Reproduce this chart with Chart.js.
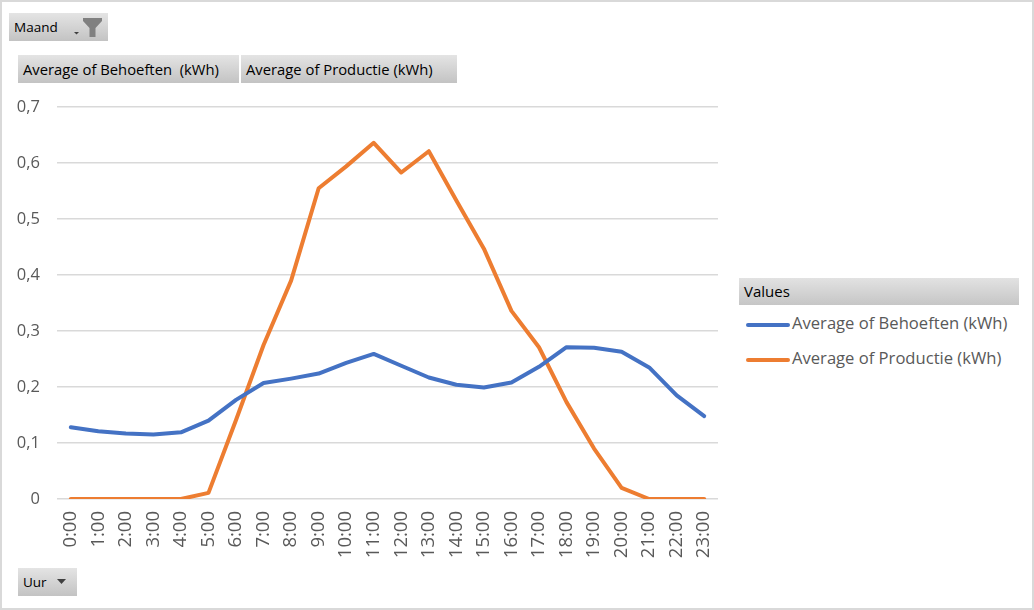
<!DOCTYPE html>
<html>
<head>
<meta charset="utf-8">
<script src="https://cdn.jsdelivr.net/npm/chart.js@4/dist/chart.umd.min.js"></script>
<style>
  html, body { margin: 0; padding: 0; background: #fff; }
  #frame {
    position: relative; width: 1034px; height: 610px;
    box-sizing: border-box; border: 2px solid #d9d9d9; overflow: hidden;
    font-family: "Open Sans", sans-serif;
  }
  #chartBox { position: absolute; left: -2px; top: -2px; width: 730px; height: 610px; }
  .btn {
    position: absolute; box-sizing: border-box;
    background: linear-gradient(#e4e4e4, #c3c3c3);
    color: #000; font-size: 13.5px; white-space: pre;
    padding-left: 5px; line-height: 28px; height: 28px;
  }
  .btn.field { font-size: 14.8px; }
  #legend { position: absolute; left: 737px; top: 276px; width: 280px; }
  #legend .head {
    height: 27px; line-height: 27px; padding-left: 5px;
    background: linear-gradient(#e2e2e2, #c6c6c6); font-size: 15px; color: #000;
  }
  #legend .item { position: relative; height: 35px; color: #595959; font-size: 16.6px; }
  #legend .swatch { position: absolute; left: 7px; width: 44px; height: 4px; border-radius: 2px; }
  #legend .txt { position: absolute; left: 53px; }
</style>
</head>
<body>
<div id="frame">
  <div id="chartBox"><canvas id="myChart"></canvas></div>
  <div class="btn" style="left:7px;top:11px;width:99px;">Maand<svg style="position:absolute;left:64px;top:4px" width="30" height="21" viewBox="0 0 30 21"><path d="M1 15 L6 15 L3.5 17.5 Z" fill="#404040"/><path d="M10 1 L29 1 L29 4 L22.5 11 L22.5 20 L16.5 20 L16.5 11 L10 4 Z" fill="#808080"/></svg></div>
  <div class="btn field" style="left:16px;top:53px;width:221px;">Average of Behoeften  (kWh)</div>
  <div class="btn field" style="left:239px;top:53px;width:216px;">Average of Productie (kWh)</div>
  <div class="btn" style="left:16px;top:566px;width:59px;">Uur<svg style="position:absolute;left:38px;top:10px" width="12" height="8" viewBox="0 0 12 8"><path d="M1 1 L10 1 L5.5 6 Z" fill="#404040"/></svg></div>
  <div id="legend"></div>
</div>
<script>
const hours = ["0:00", "1:00", "2:00", "3:00", "4:00", "5:00", "6:00", "7:00", "8:00", "9:00", "10:00", "11:00",
  "12:00", "13:00", "14:00", "15:00", "16:00", "17:00", "18:00", "19:00", "20:00", "21:00", "22:00", "23:00"];

const behoeften = [0.128, 0.121, 0.117, 0.115, 0.119, 0.140, 0.177, 0.207, 0.215, 0.224, 0.243, 0.259,
  0.238, 0.217, 0.204, 0.199, 0.208, 0.236, 0.271, 0.270, 0.263, 0.235, 0.185, 0.148];

const productie = [0, 0, 0, 0, 0, 0.011, 0.141, 0.275, 0.390, 0.555, 0.594, 0.636,
  0.583, 0.621, 0.533, 0.447, 0.336, 0.271, 0.173, 0.090, 0.020, 0, 0, 0];

const seriesNames = ["Average of Behoeften (kWh)", "Average of Productie (kWh)"];
const seriesColors = ["#4472C4", "#ED7D31"];

const ctx = document.getElementById("myChart").getContext("2d");
const chart = new Chart(ctx, {
  type: "line",
  data: {
    labels: hours,
    datasets: [
      { label: seriesNames[0], data: behoeften, borderColor: seriesColors[0], backgroundColor: seriesColors[0] },
      { label: seriesNames[1], data: productie, borderColor: seriesColors[1], backgroundColor: seriesColors[1] },
    ],
  },
  options: {
    responsive: true,
    maintainAspectRatio: false,
    animation: false,
    layout: { padding: { left: 0, top: 107, right: 12, bottom: 0 } },
    elements: {
      line: { borderWidth: 4, tension: 0, borderCapStyle: "round", borderJoinStyle: "round" },
      point: { radius: 0, hoverRadius: 0 },
    },
    plugins: { legend: { display: false }, tooltip: { enabled: false } },
    scales: {
      x: {
        offset: true,
        grid: { display: false, drawTicks: false },
        border: { display: false },
        ticks: {
          minRotation: 90, maxRotation: 90, autoSkip: false, padding: 12,
          color: "#595959", font: { family: "Open Sans", size: 18.5 },
        },
        afterFit: (scale) => {
          scale.height = 111;
          // keep the plot edges where Excel has them
          scale.paddingLeft = 0;
          scale.paddingRight = 0;
        },
      },
      y: {
        min: 0, max: 0.7,
        grid: { color: "#d9d9d9", lineWidth: 1.5, drawTicks: false },
        border: { display: false },
        ticks: {
          stepSize: 0.1, padding: 17,
          color: "#595959", font: { family: "Open Sans", size: 16.5 },
          callback: (v) => (Math.round(v * 10) / 10).toString().replace(".", ","),
        },
        afterFit: (scale) => { scale.width = 57; },
      },
    },
  },
});

// legend in Excel style, built from the datasets
const legend = document.getElementById("legend");
legend.innerHTML = '<div class="head">Values</div>';
chart.data.datasets.forEach((ds, i) => {
  const item = document.createElement("div");
  item.className = "item";
  item.style.marginTop = i === 0 ? "3px" : "0";
  item.innerHTML = '<div class="swatch" style="top:' + 15 + 'px;background:' + ds.borderColor + '"></div>' +
    '<div class="txt" style="top:3px">' + ds.label + '</div>';
  legend.appendChild(item);
});
</script>
</body>
</html>
